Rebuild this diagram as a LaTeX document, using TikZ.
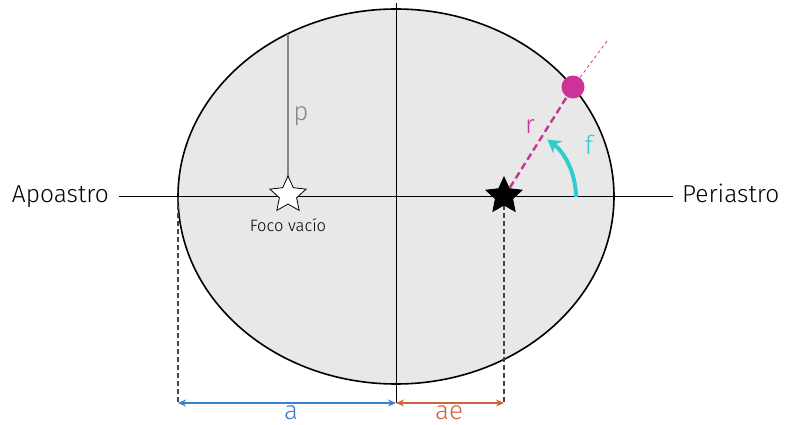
\documentclass[tikz,border=0pt]{standalone}
\usepackage{fontspec}
\setmainfont{Fira Sans}[UprightFont=* Light]
\usetikzlibrary{shapes.geometric,arrows.meta}
\definecolor{ellfill}{HTML}{E8E8E8}
\definecolor{magent}{HTML}{CC3399}
\definecolor{turq}{HTML}{33CCCC}
\definecolor{blueA}{HTML}{3A80D2}
\definecolor{orangeA}{HTML}{D2623A}
\definecolor{grayp}{HTML}{888888}
\definecolor{dashg}{HTML}{444444}
\begin{document}
\begin{tikzpicture}[x=1pt,y=-1pt,
  starshape/.style={star,star points=5,star point ratio=2.1,minimum size=38pt,inner sep=0pt,draw=black,line width=0.8pt},
  lbl/.style={font=\fontsize{26}{30}\selectfont,inner sep=0pt},
  side/.style={font=\fontsize{24.5}{28}\selectfont,inner sep=0pt},
  dimline/.style={line width=1.6pt,{Stealth[length=8pt,width=7pt]}-{Stealth[length=8pt,width=7pt]}},
  guide/.style={dashg,dashed,line width=1.2pt,dash pattern=on 5pt off 3pt}]
\useasboundingbox (0,0) rectangle (785,425);
% ellipse
\draw[fill=ellfill,line width=1.6pt] (396,196.5) ellipse [x radius=218,y radius=187.5];
% axes
\coordinate (hl) at (119,197);
\coordinate (hr) at (673,197);
\coordinate (vt) at (396,3);
\coordinate (vb) at (396,403);
\draw[line width=1pt] (hl) -- (hr);
\draw[line width=1pt] (vt) -- (vb);
% labels
\node[side,anchor=base east] (apo) at (109,203) {Apoastro};
\node[side,anchor=base west] (peri) at (682,203) {Periastro};
% points
\coordinate (ptop) at (288,33.6);
\coordinate (pl) at (178,197);
\coordinate (pr) at (504,197);
\coordinate (pbl) at (178,403);
\coordinate (pbr) at (504,403);
\coordinate (ext) at (607,41);
% p line
\draw[grayp,line width=1.3pt] (288,190) -- (ptop);
\node[lbl,text=grayp,anchor=base] (plab) at (301,121) {p};
% empty focus
\node[starshape,fill=white] (foco) at (288,195) {};
\node[font=\fontsize{16.5}{18}\selectfont,anchor=base] (focolab) at (288,231) {Foco vacío};
% guides
\draw[guide] (pl) -- (pbl);
\draw[guide] (pr) -- (pbr);
% planet line
\node[circle,fill=magent,minimum size=23pt,inner sep=0pt] (planet) at (573,87) {};
\draw[magent,line width=0.8pt,dash pattern=on 3pt off 3pt] (planet.center) -- (ext);
\draw[magent,line width=2.4pt,dash pattern=on 7pt off 4pt] (pr) -- (planet);
\node[lbl,text=magent,anchor=base] (rlab) at (530,134) {r};
% angle arc
\draw[turq,line width=4pt,-{Stealth[length=13pt,width=15pt]}] (576,197) arc[start angle=0,end angle=-53,radius=72];
\node[lbl,text=turq,anchor=base] (flab) at (589,155) {f};
% black star
\node[starshape,fill=black] (star) at (504,196) {};
% dimension arrows
\draw[dimline,blueA] (pbl) -- (vb);
\draw[dimline,orangeA] (vb) -- (pbr);
\node[lbl,text=blueA,anchor=base] (alab) at (291,419) {a};
\node[lbl,text=orangeA,anchor=base] (aelab) at (449,419) {ae};
\end{tikzpicture}
\end{document}
